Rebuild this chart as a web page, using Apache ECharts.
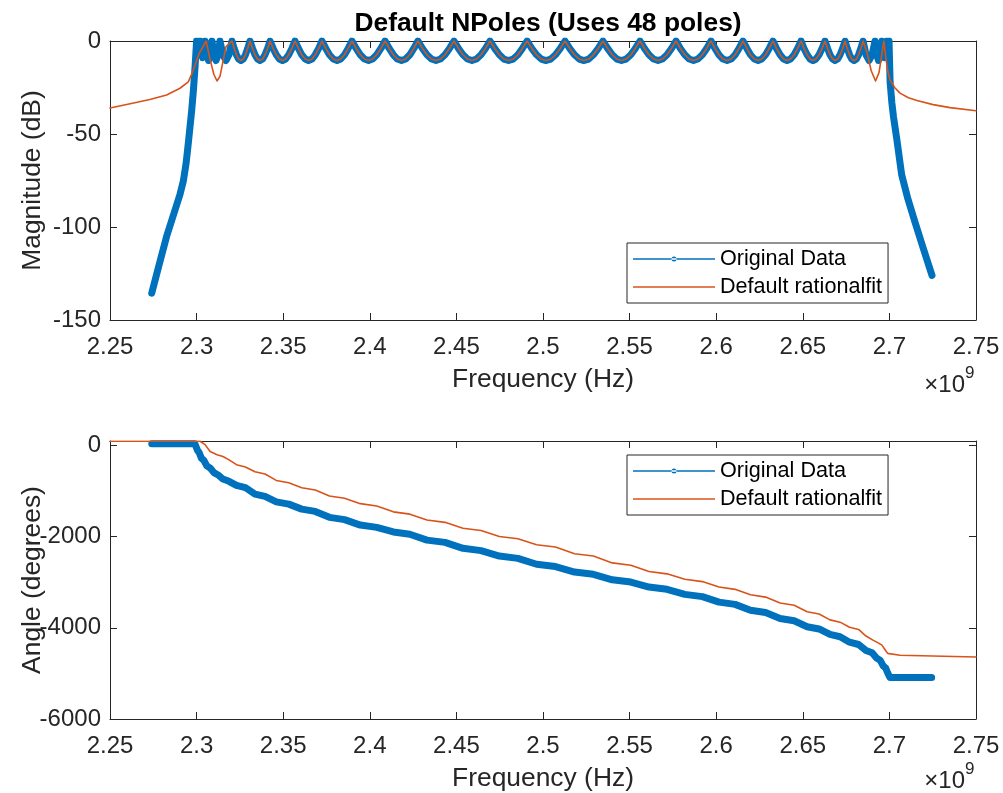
<!DOCTYPE html>
<html>
<head>
<meta charset="utf-8">
<script src="https://cdn.jsdelivr.net/npm/echarts@6/dist/echarts.min.js"></script>
<style>html,body{margin:0;padding:0;background:#fff}#c{width:1003px;height:793px}</style>
</head>
<body>
<div id="c"></div>
<script>
// ---------------- data (frequency in GHz, x10^9 Hz) ----------------
const titleText = 'Default NPoles (Uses 48 poles)';
const seriesNames = ['Original Data', 'Default rationalfit'];
const xTicks = [2.25, 2.3, 2.35, 2.4, 2.45, 2.5, 2.55, 2.6, 2.65, 2.7, 2.75];
const magTicks = [-150, -100, -50, 0];
const phaseTicks = [-6000, -4000, -2000, 0];

// passband ripple shared by both curves (2.3308 .. 2.6848 GHz)
const passFreq = [
  2.3308, 2.3323, 2.3337, 2.3352, 2.3366, 2.3381, 2.3395, 2.3410,
  2.3424, 2.3442, 2.3460, 2.3478, 2.3496, 2.3514, 2.3532, 2.3550,
  2.3568, 2.3588, 2.3607, 2.3627, 2.3646, 2.3666, 2.3685, 2.3705,
  2.3724, 2.3746, 2.3767, 2.3789, 2.3811, 2.3832, 2.3854, 2.3875,
  2.3897, 2.3921, 2.3945, 2.3969, 2.3993, 2.4016, 2.4040, 2.4064,
  2.4088, 2.4112, 2.4136, 2.4159, 2.4183, 2.4207, 2.4231, 2.4254,
  2.4278, 2.4304, 2.4330, 2.4356, 2.4382, 2.4408, 2.4434, 2.4460,
  2.4486, 2.4512, 2.4538, 2.4564, 2.4590, 2.4616, 2.4642, 2.4668,
  2.4694, 2.4721, 2.4748, 2.4774, 2.4801, 2.4828, 2.4855, 2.4881,
  2.4908, 2.4935, 2.4963, 2.4990, 2.5018, 2.5045, 2.5072, 2.5100,
  2.5127, 2.5154, 2.5182, 2.5209, 2.5237, 2.5264, 2.5291, 2.5319,
  2.5346, 2.5373, 2.5400, 2.5426, 2.5453, 2.5480, 2.5507, 2.5533,
  2.5560, 2.5586, 2.5612, 2.5638, 2.5664, 2.5690, 2.5716, 2.5742,
  2.5768, 2.5793, 2.5819, 2.5844, 2.5869, 2.5894, 2.5920, 2.5945,
  2.5970, 2.5993, 2.6016, 2.6039, 2.6063, 2.6086, 2.6109, 2.6132,
  2.6155, 2.6177, 2.6198, 2.6220, 2.6242, 2.6263, 2.6285, 2.6306,
  2.6328, 2.6348, 2.6369, 2.6389, 2.6409, 2.6429, 2.6450, 2.6470,
  2.6490, 2.6507, 2.6525, 2.6542, 2.6559, 2.6576, 2.6594, 2.6611,
  2.6628, 2.6643, 2.6657, 2.6672, 2.6686, 2.6701, 2.6715, 2.6730,
  2.6744, 2.6757, 2.6770, 2.6783, 2.6796, 2.6809, 2.6822, 2.6835,
  2.6848
];
const passDb = [
  0, -4.0, -7.4, -9.7, -10.5, -9.7, -7.4, -4.0,
  0, -4.0, -7.4, -9.7, -10.5, -9.7, -7.4, -4.0,
  0, -4.0, -7.4, -9.7, -10.5, -9.7, -7.4, -4.0,
  0, -4.0, -7.4, -9.7, -10.5, -9.7, -7.4, -4.0,
  0, -4.0, -7.4, -9.7, -10.5, -9.7, -7.4, -4.0,
  0, -4.0, -7.4, -9.7, -10.5, -9.7, -7.4, -4.0,
  0, -4.0, -7.4, -9.7, -10.5, -9.7, -7.4, -4.0,
  0, -4.0, -7.4, -9.7, -10.5, -9.7, -7.4, -4.0,
  0, -4.0, -7.4, -9.7, -10.5, -9.7, -7.4, -4.0,
  0, -4.0, -7.4, -9.7, -10.5, -9.7, -7.4, -4.0,
  0, -4.0, -7.4, -9.7, -10.5, -9.7, -7.4, -4.0,
  0, -4.0, -7.4, -9.7, -10.5, -9.7, -7.4, -4.0,
  0, -4.0, -7.4, -9.7, -10.5, -9.7, -7.4, -4.0,
  0, -4.0, -7.4, -9.7, -10.5, -9.7, -7.4, -4.0,
  0, -4.0, -7.4, -9.7, -10.5, -9.7, -7.4, -4.0,
  0, -4.0, -7.4, -9.7, -10.5, -9.7, -7.4, -4.0,
  0, -4.0, -7.4, -9.7, -10.5, -9.7, -7.4, -4.0,
  0, -4.0, -7.4, -9.7, -10.5, -9.7, -7.4, -4.0,
  0, -4.0, -7.4, -9.7, -10.5, -9.7, -7.4, -4.0,
  0, -4.0, -7.4, -9.7, -10.5, -9.7, -7.4, -4.0,
  0
];

// Original Data magnitude, band edges
const origMagLeftFreq = [2.2741, 2.2783, 2.2827, 2.2875, 2.2904, 2.2923, 2.2939, 2.2952, 2.2962, 2.2972, 2.2982, 2.2991,
  2.3000, 2.3005, 2.3010, 2.3015, 2.3020, 2.3027, 2.3035, 2.3042, 2.3049, 2.3059, 2.3069, 2.3079,
  2.3089, 2.3100, 2.3112, 2.3124, 2.3135, 2.3152, 2.3170, 2.3187,
  2.3204, 2.3217, 2.3230, 2.3243, 2.3256, 2.3269, 2.3282, 2.3295];
const origMagLeftDb = [-135.6, -120.5, -105, -91, -82.5, -75.5, -66, -55, -46, -37, -26, -14,
  0, -5, -7, -5, 0, -6.4, -9, -6.4, 0, -7.4, -10.5, -7.4,
  0, -7.4, -10.5, -7.4, 0, -7.4, -10.5, -7.4,
  0, -4.0, -7.4, -9.7, -10.5, -9.7, -7.4, -4.0];
const origMagRightFreq = [2.6865, 2.6883, 2.6900, 2.6917, 2.6927, 2.6937, 2.6947, 2.6957,
  2.6964, 2.6972, 2.6979, 2.6986, 2.6989, 2.6992, 2.6995, 2.6998,
  2.7004, 2.7014, 2.7024, 2.7043, 2.7071, 2.7107, 2.7148, 2.7194, 2.7246];
const origMagRightDb = [-7.4, -10.5, -7.4, 0, -7.4, -10.5, -7.4, 0,
  -6.4, -9, -6.4, 0, -4, -6, -4, 0,
  -22, -33, -41, -53, -72, -85, -97.5, -111, -126];

// rationalfit magnitude, band edges
const fitMagLeftFreq = [2.2500, 2.2630, 2.2730, 2.2827, 2.2904, 2.2952, 2.2980, 2.3015, 2.3055,
  2.3078, 2.3100, 2.3118, 2.3135, 2.3150, 2.3170, 2.3204,
  2.3217, 2.3230, 2.3243, 2.3256, 2.3269, 2.3282, 2.3295];
const fitMagLeftDb = [-36, -33.5, -31.5, -29, -25.4, -22, -16, -6.6, 0,
  -10, -18, -21.5, -19, -12, -3, 0,
  -4.0, -7.4, -9.7, -10.5, -9.7, -7.4, -4.0];
const fitMagRightFreq = [2.6870, 2.6895, 2.6920, 2.6940, 2.6955, 2.6968, 2.6978, 2.6990, 2.7004,
  2.7030, 2.7061, 2.7110, 2.7159, 2.7252, 2.7350, 2.7500];
const fitMagRightDb = [-6, -16, -21.5, -17, -8, 0, -8, -16, -21,
  -25, -28, -30.5, -32, -34.2, -35.8, -37.5];

// Original Data phase (degrees)
const origPhaseFreq = [2.2741, 2.2990,
  2.3005, 2.3015, 2.3027, 2.3042, 2.3059, 2.3079, 2.3100, 2.3124, 2.3152, 2.3187,
  2.3230, 2.3282, 2.3337, 2.3395, 2.3460, 2.3532, 2.3607, 2.3685, 2.3767, 2.3854,
  2.3945, 2.4040, 2.4136, 2.4231, 2.4330, 2.4434, 2.4538, 2.4642, 2.4748, 2.4855,
  2.4963, 2.5072, 2.5182, 2.5291, 2.5400, 2.5507, 2.5612, 2.5716, 2.5819, 2.5920,
  2.6016, 2.6109, 2.6198, 2.6285, 2.6369, 2.6450, 2.6525, 2.6594, 2.6657, 2.6715,
  2.6770, 2.6822, 2.6865, 2.6900, 2.6927, 2.6947, 2.6964, 2.6979, 2.6989, 2.6995,
  2.7003, 2.7244];
const origPhaseDeg = [40, 40,
  -105, -155, -275, -325, -445, -495, -595, -645, -735, -785,
  -875, -925, -1065, -1115, -1235, -1285, -1395, -1445, -1575, -1625,
  -1745, -1795, -1895, -1945, -2075, -2125, -2255, -2305, -2425, -2475,
  -2605, -2655, -2775, -2825, -2945, -2995, -3105, -3155, -3265, -3315,
  -3435, -3485, -3615, -3665, -3795, -3845, -3975, -4025, -4145, -4195,
  -4315, -4365, -4495, -4545, -4665, -4715, -4835, -4885, -4980, -5000,
  -5090, -5090];

// rationalfit phase (degrees)
const fitPhaseFreq = [2.2500, 2.3020, 2.3049, 2.3078, 2.3118, 2.3152, 2.3190, 2.3230, 2.3282,
  2.3337, 2.3395, 2.3460, 2.3532, 2.3607, 2.3685, 2.3767, 2.3854,
  2.3945, 2.4040, 2.4136, 2.4231, 2.4330, 2.4434, 2.4538, 2.4642, 2.4748, 2.4855,
  2.4963, 2.5072, 2.5182, 2.5291, 2.5400, 2.5507, 2.5612, 2.5716, 2.5819, 2.5920,
  2.6016, 2.6109, 2.6198, 2.6285, 2.6369, 2.6450, 2.6525, 2.6594, 2.6657, 2.6715,
  2.6770, 2.6822, 2.6865, 2.6905, 2.6935, 2.6957, 2.6975, 2.6990, 2.7061, 2.7500];
const fitPhaseDeg = [95, 95, 20, -130, -200, -240, -320, -420, -470,
  -575, -625, -765, -815, -925, -975, -1105, -1155,
  -1275, -1325, -1455, -1505, -1635, -1685, -1815, -1865, -1995, -2045,
  -2175, -2225, -2375, -2425, -2575, -2625, -2765, -2815, -2935, -2985,
  -3105, -3155, -3275, -3325, -3455, -3505, -3645, -3695, -3825, -3875,
  -3985, -4035, -4180, -4270, -4330, -4380, -4480, -4560, -4600, -4640];

// ---------------- chart ----------------
const FONT = "'Liberation Sans', Arial, Helvetica, sans-serif";
const AX = '#262626';
const BLUE = '#0072BD', ORANGE = '#D95319';
const zip = (xs, ys) => xs.map((x, i) => [x, ys[i]]);

const origMag = zip(origMagLeftFreq.concat(passFreq, origMagRightFreq), origMagLeftDb.concat(passDb, origMagRightDb));
const fitMag = zip(fitMagLeftFreq.concat(passFreq, fitMagRightFreq), fitMagLeftDb.concat(passDb, fitMagRightDb));
const origPhase = zip(origPhaseFreq, origPhaseDeg);
const fitPhase = zip(fitPhaseFreq, fitPhaseDeg);

const tick = {show: true, inside: true, length: 7, lineStyle: {color: AX, width: 1}};
const line = {show: true, onZero: false, lineStyle: {color: AX, width: 1}};
const lbl = {color: AX, fontSize: 24, fontFamily: FONT};

function xAx(grid, pos, show) {
  return {
    type: 'value', gridIndex: grid, position: pos, min: xTicks[0], max: xTicks[xTicks.length - 1],
    interval: 0.05, axisLine: line, axisTick: tick, splitLine: {show: false},
    axisLabel: show ? Object.assign({margin: 15, formatter: v => String(+v.toFixed(2))}, lbl) : {show: false},
    name: show ? 'Frequency (Hz)' : '', nameLocation: 'middle', nameGap: 47, nameMoveOverlap: false,
    nameTextStyle: {color: AX, fontSize: 26.4, fontFamily: FONT}
  };
}
function yAx(grid, pos, show, ticks, max, name, gap) {
  return {
    type: 'value', gridIndex: grid, position: pos, min: ticks[0], max: max,
    interval: ticks[1] - ticks[0], axisLine: line, axisTick: tick, splitLine: {show: false},
    axisLabel: show ? Object.assign({margin: 9, formatter: v => (ticks.indexOf(v) >= 0 ? String(v) : '')}, lbl) : {show: false},
    name: show ? name : '', nameLocation: 'middle', nameGap: gap, nameRotate: 90, nameMoveOverlap: false,
    nameTextStyle: {color: AX, fontSize: 26.4, fontFamily: FONT}
  };
}

const ICON_DOT = 'path://M0,0L0,0M0,1.75L82,1.75L82,3.25L0,3.25ZM38.5,2.5a2.5,2.5 0 1,0 5,0a2.5,2.5 0 1,0 -5,0ZM0,5L0,5';
const ICON_LINE = 'path://M0,0L0,0M0,1.75L82,1.75L82,3.25L0,3.25ZM0,5L0,5';
const legendBase = {
  orient: 'vertical', left: 627, itemWidth: 82, itemHeight: 5, itemGap: 6,
  padding: [5, 6, 5, 6], borderColor: AX, borderWidth: 1, backgroundColor: '#fff',
  borderRadius: 0, selectedMode: false,
  textStyle: {fontSize: 21.6, color: '#000', fontFamily: FONT},
  data: [
    {name: seriesNames[0], icon: ICON_DOT, itemStyle: {color: BLUE, borderWidth: 0}},
    {name: seriesNames[1], icon: ICON_LINE, itemStyle: {color: ORANGE, borderWidth: 0}}
  ]
};

function ser(name, data, xi, color, width) {
  return {
    name: name, type: 'line', data: data, xAxisIndex: xi, yAxisIndex: xi,
    symbol: 'none', showSymbol: false, smooth: false, clip: true,
    lineStyle: {color: color, width: width, cap: 'round', join: 'round'},
    itemStyle: {color: color}, emphasis: {disabled: true}, z: width > 3 ? 2 : 3
  };
}

const chart = echarts.init(document.getElementById('c'), null, {renderer: 'canvas'});
chart.setOption({
  animation: false,
  backgroundColor: '#fff',
  textStyle: {fontFamily: FONT},
  title: {
    text: titleText, left: 543, top: 6, textAlign: 'center',
    textStyle: {fontSize: 26.4, fontWeight: 'bold', color: '#000', fontFamily: FONT}
  },
  grid: [
    {left: 110, top: 41, width: 866, height: 279},
    {left: 110, top: 441, width: 866, height: 278}
  ],
  xAxis: [xAx(0, 'bottom', true), xAx(0, 'top', false), xAx(1, 'bottom', true), xAx(1, 'top', false)],
  yAxis: [
    yAx(0, 'left', true, magTicks, 0, 'Magnitude (dB)', 64), yAx(0, 'right', false, magTicks, 0, '', 0),
    yAx(1, 'left', true, phaseTicks, 100, 'Angle (degrees)', 64), yAx(1, 'right', false, phaseTicks, 100, '', 0)
  ],
  legend: [Object.assign({top: 243}, legendBase), Object.assign({top: 455}, legendBase)],
  series: [
    ser(seriesNames[0], origMag, 0, BLUE, 7),
    ser(seriesNames[1], fitMag, 0, ORANGE, 1.6),
    ser(seriesNames[0], origPhase, 2, BLUE, 7),
    ser(seriesNames[1], fitPhase, 2, ORANGE, 1.6)
  ],
  graphic: [
    {type: 'text', x: 965, y: 385, style: {text: '×10', fontSize: 24, fontFamily: FONT, fill: AX, align: 'right', verticalAlign: 'middle'}},
    {type: 'text', x: 965, y: 373, style: {text: '9', fontSize: 17, fontFamily: FONT, fill: AX, align: 'left', verticalAlign: 'middle'}},
    {type: 'text', x: 965, y: 781, style: {text: '×10', fontSize: 24, fontFamily: FONT, fill: AX, align: 'right', verticalAlign: 'middle'}},
    {type: 'text', x: 965, y: 769, style: {text: '9', fontSize: 17, fontFamily: FONT, fill: AX, align: 'left', verticalAlign: 'middle'}}
  ]
});
</script>
</body>
</html>
